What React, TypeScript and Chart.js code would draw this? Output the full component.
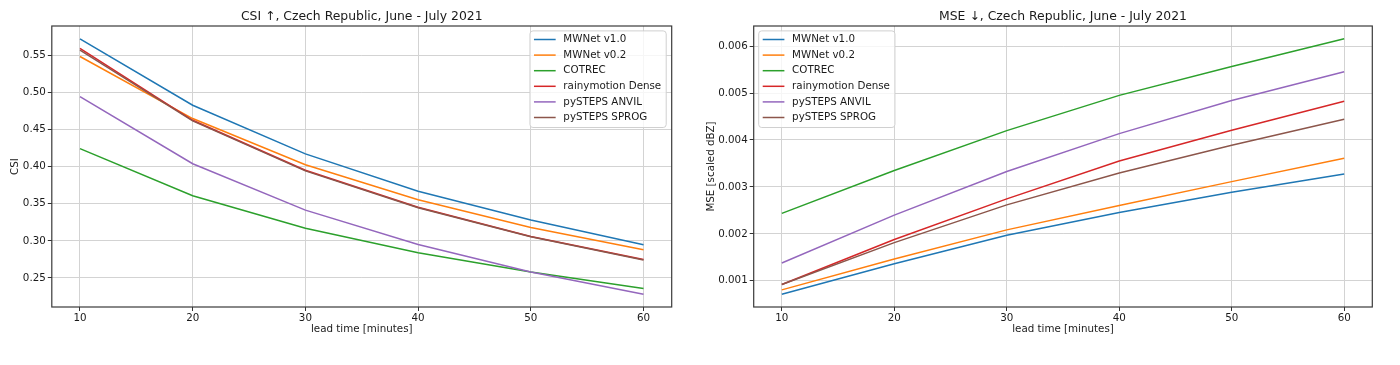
import React, { useEffect, useRef } from "react";
import { Chart, registerables } from "chart.js";

Chart.register(...registerables);

// ---------- data ----------
const leadTimes = [10, 20, 30, 40, 50, 60];
const seriesNames = [
  "MWNet v1.0",
  "MWNet v0.2",
  "COTREC",
  "rainymotion Dense",
  "pySTEPS ANVIL",
  "pySTEPS SPROG",
];
const seriesColors = ["#1f77b4", "#ff7f0e", "#2ca02c", "#d62728", "#9467bd", "#8c564b"];

// CSI (higher is better)
const csiMWNet10 = [0.5725, 0.4829, 0.4173, 0.367, 0.328, 0.2946];
const csiMWNet02 = [0.5486, 0.4649, 0.4027, 0.3555, 0.318, 0.288];
const csiCOTREC = [0.4243, 0.3608, 0.317, 0.2838, 0.2579, 0.2356];
const csiRainymotion = [0.5595, 0.4626, 0.3952, 0.3452, 0.3058, 0.2747];
const csiAnvil = [0.4945, 0.404, 0.3414, 0.295, 0.2579, 0.228];
const csiSprog = [0.5572, 0.4617, 0.3944, 0.3446, 0.3054, 0.2743];

// MSE (lower is better)
const mseMWNet10 = [0.000714, 0.001364, 0.00197, 0.002453, 0.002887, 0.003277];
const mseMWNet02 = [0.000807, 0.001464, 0.002085, 0.002604, 0.003113, 0.00361];
const mseCOTREC = [0.002436, 0.00335, 0.0042, 0.00495, 0.005567, 0.006156];
const mseRainymotion = [0.000921, 0.001879, 0.002745, 0.003553, 0.004206, 0.004823];
const mseAnvil = [0.001379, 0.0024, 0.00333, 0.004135, 0.00484, 0.005454];
const mseSprog = [0.000921, 0.001814, 0.002617, 0.003298, 0.003887, 0.00444];

const xTicks = [10, 20, 30, 40, 50, 60];
const csiTicks = [0.25, 0.3, 0.35, 0.4, 0.45, 0.5, 0.55];
const mseTicks = [0.001, 0.002, 0.003, 0.004, 0.005, 0.006];

const csiTitle = "CSI ↑, Czech Republic, June - July 2021";
const mseTitle = "MSE ↓, Czech Republic, June - July 2021";
const xAxisTitle = "lead time [minutes]";
const csiAxisTitle = "CSI";
const mseAxisTitle = "MSE [scaled dBZ]";

// ---------- styling helpers ----------
const FONT = "'DejaVu Sans', 'Liberation Sans', sans-serif";
const TEXT = "#1a1a1a";
const SMALL = 10.3;

function framePlugin() {
  return {
    id: "frame",
    afterDatasetsDraw(chart: any) {
      const { ctx, chartArea: a } = chart;
      ctx.save();
      ctx.strokeStyle = "#3a3a3a";
      ctx.lineWidth = 1.2;
      ctx.strokeRect(a.left, a.top, a.right - a.left, a.bottom - a.top);
      ctx.restore();
    },
  };
}

// Title centred over the plot area (as matplotlib does)
function axesTitlePlugin(text: string) {
  return {
    id: "axesTitle",
    afterDraw(chart: any) {
      const { ctx, chartArea: a } = chart;
      ctx.save();
      ctx.font = `12.4px ${FONT}`;
      ctx.fillStyle = TEXT;
      ctx.textAlign = "center";
      ctx.textBaseline = "middle";
      ctx.fillText(text, (a.left + a.right) / 2, 16.3);
      ctx.restore();
    },
  };
}

function legendPlugin(side: "left" | "right") {
  return {
    id: "mplLegend",
    afterDraw(chart: any) {
      const { ctx, chartArea: a } = chart;
      const ds = chart.data.datasets;
      ctx.save();
      ctx.font = `${SMALL}px ${FONT}`;
      let maxW = 0;
      ds.forEach((d: any) => {
        maxW = Math.max(maxW, ctx.measureText(d.label).width);
      });
      const padL = 4;
      const handle = 21.7;
      const gap = 7.7;
      const padR = 5;
      const rowH = 15.6;
      const boxW = padL + handle + gap + maxW + padR;
      const boxH = 96.6;
      const top = a.top + 4.9;
      const left = side === "right" ? a.right - 5.5 - boxW : a.left + 5;
      const r = 3;
      ctx.beginPath();
      ctx.moveTo(left + r, top);
      ctx.lineTo(left + boxW - r, top);
      ctx.quadraticCurveTo(left + boxW, top, left + boxW, top + r);
      ctx.lineTo(left + boxW, top + boxH - r);
      ctx.quadraticCurveTo(left + boxW, top + boxH, left + boxW - r, top + boxH);
      ctx.lineTo(left + r, top + boxH);
      ctx.quadraticCurveTo(left, top + boxH, left, top + boxH - r);
      ctx.lineTo(left, top + r);
      ctx.quadraticCurveTo(left, top, left + r, top);
      ctx.closePath();
      ctx.fillStyle = "rgba(255,255,255,0.8)";
      ctx.fill();
      ctx.strokeStyle = "#d0d0d0";
      ctx.lineWidth = 1;
      ctx.stroke();
      ds.forEach((d: any, i: number) => {
        const y = top + 8.6 + i * rowH;
        ctx.strokeStyle = d.borderColor;
        ctx.lineWidth = 1.5;
        ctx.beginPath();
        ctx.moveTo(left + padL, y);
        ctx.lineTo(left + padL + handle, y);
        ctx.stroke();
        ctx.fillStyle = TEXT;
        ctx.textBaseline = "middle";
        ctx.textAlign = "left";
        ctx.fillText(d.label, left + padL + handle + gap, y);
      });
      ctx.restore();
    },
  };
}

type Params = {
  title: string;
  yTitle: string;
  series: number[][];
  yTicks: number[];
  decimals: number;
  yWidth: number;
  padRight: number;
  yTitlePad: number;
  legendSide: "left" | "right";
};

function niceRange(series: number[][]) {
  let lo = Infinity;
  let hi = -Infinity;
  series.forEach((s) =>
    s.forEach((v) => {
      lo = Math.min(lo, v);
      hi = Math.max(hi, v);
    })
  );
  const m = (hi - lo) * 0.05;
  return { min: lo - m, max: hi + m };
}

function buildConfig(p: Params): any {
  const range = niceRange(p.series);
  const span = leadTimes[leadTimes.length - 1] - leadTimes[0];
  const xMin = leadTimes[0] - span * 0.05;
  const xMax = leadTimes[leadTimes.length - 1] + span * 0.05;
  const n = p.series.length;
  return {
    type: "line",
    data: {
      datasets: p.series.map((s, i) => ({
        label: seriesNames[i],
        data: s.map((v, j) => ({ x: leadTimes[j], y: v })),
        borderColor: seriesColors[i],
        backgroundColor: seriesColors[i],
        borderWidth: 1.5,
        pointRadius: 0,
        pointHoverRadius: 0,
        tension: 0,
        fill: false,
        order: n - 1 - i,
      })),
    },
    options: {
      responsive: false,
      animation: false,
      devicePixelRatio: 1,
      layout: { padding: { left: 0, right: p.padRight, top: 26, bottom: 0 } },
      plugins: {
        legend: { display: false },
        tooltip: { enabled: false },
        title: { display: false },
      },
      scales: {
        x: {
          type: "linear",
          min: xMin,
          max: xMax,
          afterBuildTicks: (s: any) => {
            s.ticks = xTicks.map((v) => ({ value: v }));
          },
          afterFit: (s: any) => {
            s.height = 58;
          },
          ticks: {
            color: TEXT,
            font: { family: FONT, size: SMALL },
            padding: 1,
            maxRotation: 0,
            autoSkip: false,
            callback: (v: any) => String(v),
          },
          grid: { color: "#d3d3d3", lineWidth: 1, tickLength: 4, tickColor: "#333", drawTicks: true },
          border: { display: false },
          title: {
            display: true,
            text: xAxisTitle,
            color: TEXT,
            font: { family: FONT, size: SMALL, lineHeight: 1.2 },
            padding: { top: 0, bottom: 29 },
          },
        },
        y: {
          type: "linear",
          min: range.min,
          max: range.max,
          afterBuildTicks: (s: any) => {
            s.ticks = p.yTicks.map((v) => ({ value: v }));
          },
          afterFit: (s: any) => {
            s.width = p.yWidth;
          },
          ticks: {
            color: TEXT,
            font: { family: FONT, size: SMALL },
            padding: 2,
            autoSkip: false,
            callback: (v: any) => Number(v).toFixed(p.decimals),
          },
          grid: { color: "#d3d3d3", lineWidth: 1, tickLength: 4, tickColor: "#333", drawTicks: true },
          border: { display: false },
          title: {
            display: true,
            text: p.yTitle,
            color: TEXT,
            font: { family: FONT, size: SMALL, lineHeight: 1.2 },
            padding: { top: p.yTitlePad, bottom: 0 },
          },
        },
      },
    },
    plugins: [framePlugin(), axesTitlePlugin(p.title), legendPlugin(p.legendSide)],
  };
}

function ChartCanvas({ params, left }: { params: Params; left: number }) {
  const ref = useRef<HTMLCanvasElement | null>(null);
  useEffect(() => {
    if (!ref.current) return;
    const chart = new Chart(ref.current, buildConfig(params));
    return () => chart.destroy();
  }, []);
  return (
    <canvas
      ref={ref}
      width={700}
      height={365}
      style={{ position: "absolute", left, top: 0, width: 700, height: 365 }}
    />
  );
}

export default function App() {
  const csiParams: Params = {
    title: csiTitle,
    yTitle: csiAxisTitle,
    series: [csiMWNet10, csiMWNet02, csiCOTREC, csiRainymotion, csiAnvil, csiSprog],
    yTicks: csiTicks,
    decimals: 2,
    yWidth: 51.8,
    padRight: 28.3,
    yTitlePad: 9,
    legendSide: "right",
  };
  const mseParams: Params = {
    title: mseTitle,
    yTitle: mseAxisTitle,
    series: [mseMWNet10, mseMWNet02, mseCOTREC, mseRainymotion, mseAnvil, mseSprog],
    yTicks: mseTicks,
    decimals: 3,
    yWidth: 53.7,
    padRight: 27.7,
    yTitlePad: 5,
    legendSide: "left",
  };
  return (
    <div
      style={{
        position: "absolute",
        left: 0,
        top: 0,
        width: 1400,
        height: 365,
        background: "#fff",
      }}
    >
      <ChartCanvas params={csiParams} left={0} />
      <ChartCanvas params={mseParams} left={700} />
    </div>
  );
}
